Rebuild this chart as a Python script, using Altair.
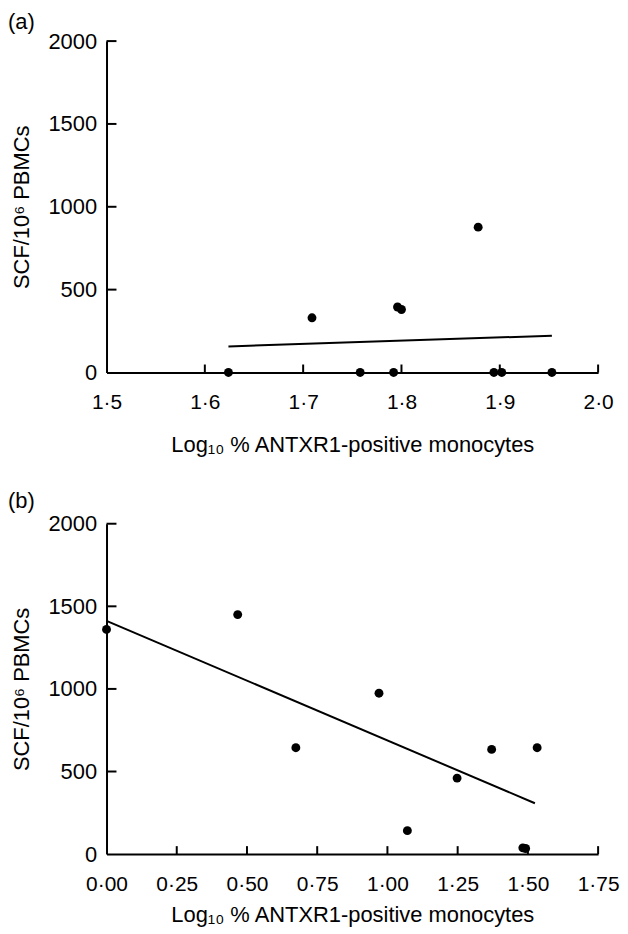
import altair as alt
import pandas as pd

# ---- data ----
# panel (a)
a_x = [1.624, 1.709, 1.758, 1.792, 1.796, 1.800, 1.878, 1.894, 1.902, 1.953]
a_y = [0, 330, 0, 0, 395, 380, 877, 0, 0, 0]
a_fit_x = [1.624, 1.953]
a_fit_y = [157, 222]
a_xticks = [1.5, 1.6, 1.7, 1.8, 1.9, 2.0]

# panel (b)
b_x = [0.0, 0.467, 0.674, 0.970, 1.071, 1.248, 1.371, 1.482, 1.492, 1.533]
b_y = [1360, 1450, 644, 974, 142, 460, 634, 38, 34, 644]
b_fit_x = [0.0, 1.525]
b_fit_y = [1412, 308]
b_xticks = [0.0, 0.25, 0.5, 0.75, 1.0, 1.25, 1.5, 1.75]

yticks = [0, 500, 1000, 1500, 2000]
panel_labels = ["(a)", "(b)"]
x_title = "Log₁₀ % ANTXR1-positive monocytes"
y_title = "SCF/10⁶ PBMCs"

FONT = "Liberation Sans"
W = 494


def panel(px, py, fx, fy, xticks, xdom, xfmt, label, H, label_pad, title_pad, label_y):
    xs = alt.Scale(domain=xdom, nice=False, zero=False)
    ys = alt.Scale(domain=[0, 2000], nice=False)
    pts = pd.DataFrame({"x": px, "y": py})
    fit = pd.DataFrame({"x": fx, "y": fy})
    xt = pd.DataFrame({"x": xticks[1:]})
    yt = pd.DataFrame({"y": yticks[1:]})
    lab = pd.DataFrame({"label": [label]})

    xenc = alt.X("x:Q", scale=xs, title=x_title, axis=alt.Axis(
        values=xticks,
        labelExpr="replace(format(datum.value, '" + xfmt + "'), '.', '·')",
        labelPadding=label_pad, titlePadding=title_pad, labelFlush=False,
    ))
    yenc = alt.Y("y:Q", scale=ys, title=y_title, axis=alt.Axis(
        values=yticks, format="d", labelPadding=10, titlePadding=14,
    ))

    points = alt.Chart(pts).mark_circle(size=80, color="black", opacity=1, clip=False).encode(
        x=xenc, y=yenc,
    )
    line = alt.Chart(fit).mark_line(color="black", strokeWidth=2).encode(
        x=xenc, y=yenc,
    )
    xtick_rules = alt.Chart(xt).mark_rule(color="black", strokeWidth=2).encode(
        x=xenc,
        y=alt.value(H),
        y2=alt.value(H - 8),
    )
    ytick_rules = alt.Chart(yt).mark_rule(color="black", strokeWidth=2).encode(
        y=yenc,
        x=alt.value(0),
        x2=alt.value(10),
    )
    text = alt.Chart(lab).mark_text(
        align="left", baseline="top", font=FONT, fontSize=22, color="black"
    ).encode(
        x=alt.value(-99),
        y=alt.value(label_y),
        text="label:N",
    )
    return alt.layer(points, line, xtick_rules, ytick_rules, text).properties(width=W, height=H)


pa = panel(a_x, a_y, a_fit_x, a_fit_y, a_xticks, [1.5, 2.0], ".1f", panel_labels[0], 333, 19, 22, -29.5)
pb = panel(b_x, b_y, b_fit_x, b_fit_y, b_xticks, [0.0, 1.75], ".2f", panel_labels[1], 332, 20, 10, -32.5)

chart = alt.vconcat(pa, pb, spacing=35).properties(
    padding={"left": 0, "top": 0, "right": 0, "bottom": 0}
).configure_view(
    stroke=None
).configure_axis(
    grid=False,
    ticks=False,
    tickSize=0,
    domainColor="black",
    domainWidth=2,
    labelColor="black",
    titleColor="black",
    labelFont=FONT,
    titleFont=FONT,
    titleFontSize=22,
    titleFontWeight="normal",
).configure_axisX(
    labelFontSize=21,
).configure_axisY(
    labelFontSize=22,
)

chart.save("out.html", embed_options={"renderer": "svg", "actions": False})
